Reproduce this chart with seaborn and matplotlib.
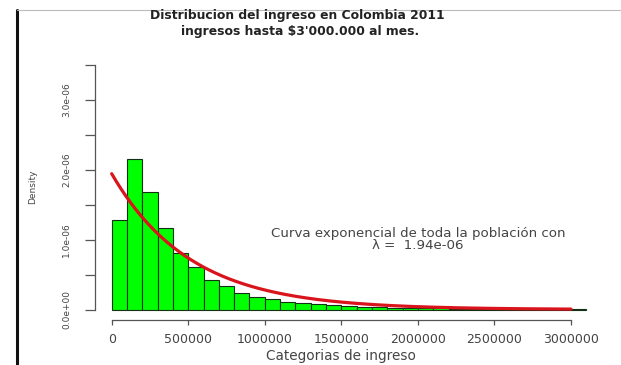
import numpy as np
import pandas as pd
import matplotlib
matplotlib.use("Agg")
import matplotlib.pyplot as plt
from matplotlib.lines import Line2D
import seaborn as sns

# Histogram of monthly income: bins of 100 000 pesos from 0 to 3 100 000
bin_edges = [i * 100000 for i in range(32)]
density_e6 = [1.28, 2.15, 1.68, 1.16, 0.81, 0.61, 0.42, 0.34, 0.24, 0.18,
              0.15, 0.11, 0.09, 0.075, 0.06, 0.05, 0.04, 0.032, 0.027, 0.022,
              0.018, 0.015, 0.012, 0.010, 0.009, 0.008, 0.007, 0.006, 0.005,
              0.004, 0.004]
lam = 1.94e-06  # exponential rate fitted to the whole population

x_ticks = [0, 500000, 1000000, 1500000, 2000000, 2500000, 3000000]
x_tick_labels = ["0", "500000", "1000000", "1500000", "2000000", "2500000", "3000000"]
y_ticks = [0, 0.5e-6, 1.0e-6, 1.5e-6, 2.0e-6, 2.5e-6, 3.0e-6, 3.5e-6]
y_tick_labels = ["0.0e+00", "", "1.0e-06", "", "2.0e-06", "", "3.0e-06", ""]

title_lines = ["Distribucion del ingreso en Colombia 2011",
               "ingresos hasta $3'000.000 al mes."]
note_text = "Curva exponencial de toda la población con\nλ =  1.94e-06"

centers = [(a + b) / 2 for a, b in zip(bin_edges[:-1], bin_edges[1:])]
hist_df = pd.DataFrame({"ingreso": centers,
                        "densidad": [d * 1e-6 for d in density_e6]})

curve_x = np.linspace(0, 3000000, 400)
curve_df = pd.DataFrame({"ingreso": curve_x,
                         "densidad": lam * np.exp(-lam * curve_x)})

sns.set_theme(style="white")
plt.rcParams["font.family"] = ["DejaVu Sans"]

W, H = 621, 365
fig = plt.figure(figsize=(W / 100, H / 100), dpi=100)
fig.patch.set_facecolor("white")

# axes box in pixel terms: left 95, right 605, top 55, bottom 320
ax = fig.add_axes([95 / W, (H - 320) / H, 510 / W, 265 / H])
ax.set_facecolor("white")

sns.histplot(data=hist_df, x="ingreso", weights="densidad", bins=bin_edges,
             stat="count", color="#00ff00", alpha=1.0, edgecolor="#143014",
             linewidth=0.8, ax=ax)
sns.lineplot(data=curve_df, x="ingreso", y="densidad", color="#d9141c",
             linewidth=2.3, ax=ax)

ax.set_xlim(-109000, 3222000)
ax.set_ylim(-0.15e-6, 3.636e-6)

for side in ["top", "right"]:
    ax.spines[side].set_visible(False)
for side in ["left", "bottom"]:
    ax.spines[side].set_color("#555555")
    ax.spines[side].set_linewidth(0.9)
ax.spines["bottom"].set_bounds(0, 3000000)
ax.spines["left"].set_bounds(0, 3.5e-6)

ax.set_xticks(x_ticks)
ax.set_xticklabels(x_tick_labels)
ax.set_yticks(y_ticks)
ax.set_yticklabels(y_tick_labels, rotation=90, va="center")
ax.tick_params(axis="x", length=3.5, width=0.9, color="#555555", pad=6,
               labelsize=9, labelcolor="#444444", bottom=True)
ax.tick_params(axis="y", length=7, width=0.9, color="#555555", pad=10,
               labelsize=6.5, labelcolor="#444444", left=True)

ax.set_xlabel("Categorias de ingreso", fontsize=9.8, color="#444444", va="center")
ax.xaxis.set_label_coords((341 - 95) / 510, (320 - 356) / 265)
ax.set_ylabel("Density", fontsize=6.5, color="#444444", va="center")
ax.yaxis.set_label_coords((33 - 95) / 510, (320 - 187) / 265)

ax.text(2000000, 1.0e-6, note_text, ha="center", va="center",
        fontsize=9.6, color="#444444", linespacing=0.95)

fig.text(297 / W, 1 - 16 / H, title_lines[0], ha="center", va="center",
         fontsize=8.9, fontweight="bold", color="#222222")
fig.text(300 / W, 1 - 31 / H, title_lines[1], ha="center", va="center",
         fontsize=8.9, fontweight="bold", color="#222222")

# window frame around the plot
fig.add_artist(Line2D([17 / W, 17 / W], [0, 1 - 10 / H], color="#111111",
                      linewidth=2.2, transform=fig.transFigure))
fig.add_artist(Line2D([17 / W, 1], [1 - 10 / H, 1 - 10 / H], color="#bbbbbb",
                      linewidth=0.8, transform=fig.transFigure))

fig.savefig("out.png", dpi=100)
